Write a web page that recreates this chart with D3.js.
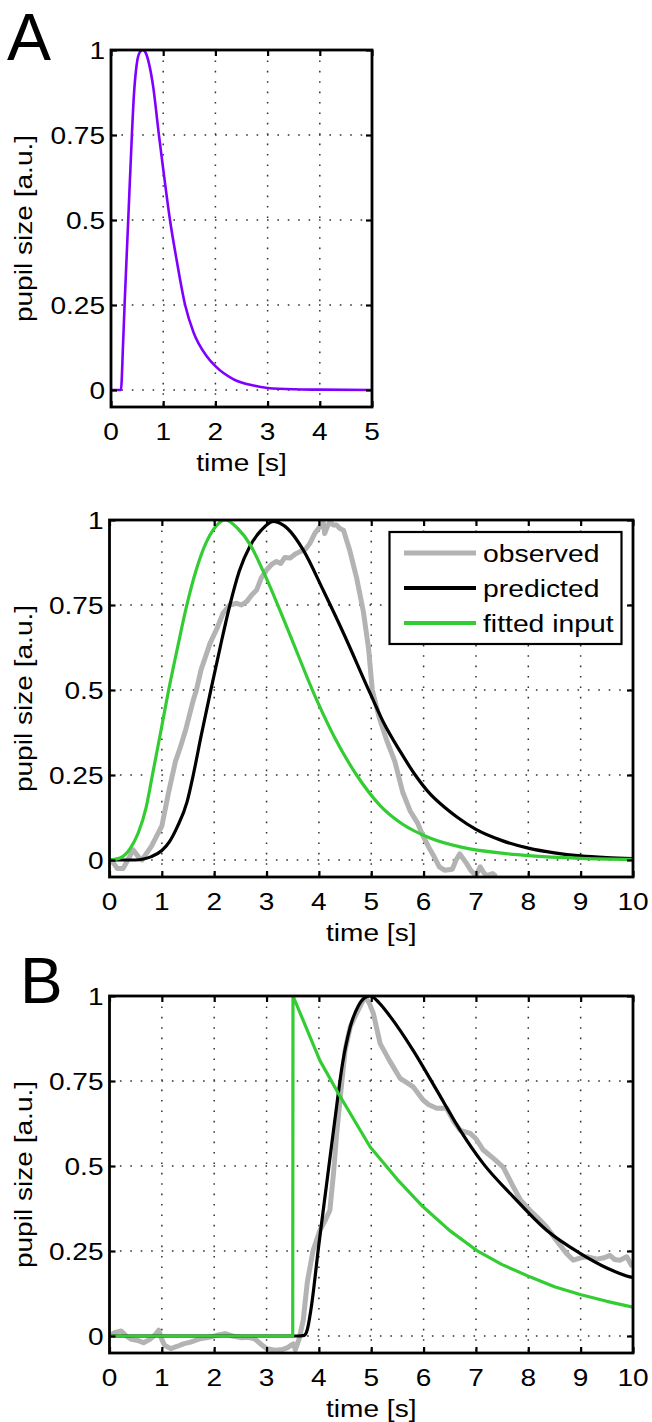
<!DOCTYPE html>
<html><head><meta charset="utf-8">
<script src="https://cdn.jsdelivr.net/npm/d3@7"></script>
<style>html,body{margin:0;padding:0;background:#fff;} svg{display:block;} text{font-family:"Liberation Sans",Arial,Helvetica,sans-serif;fill:#000;}</style>
</head><body>
<svg id="fig" width="652" height="1422"></svg>
<script>
// ---------- data (time [s], pupil size [a.u.]) ----------
const yTickValues = [0, 0.25, 0.5, 0.75, 1];
const yTickLabels = ["0", "0.25", "0.5", "0.75", "1"];
const xTicksA = [0, 1, 2, 3, 4, 5];
const xTicksBC = [0, 1, 2, 3, 4, 5, 6, 7, 8, 9, 10];
const legendLabels = ["observed", "predicted", "fitted input"];

// Panel A: pupil response function
const responseA = [[0,0],[0.18,0],[0.19,0.0],[0.23,0.13],[0.26,0.25],[0.33,0.5],[0.40,0.75],[0.44,0.87],[0.49,0.955],[0.55,0.993],[0.61,1.0],[0.67,0.99],[0.72,0.965],[0.81,0.89],[0.91,0.76],[1.0,0.65],[1.13,0.5],[1.26,0.38],[1.42,0.25],[1.58,0.17],[1.83,0.1],[2.0,0.07],[2.34,0.032],[2.73,0.013],[3.0,0.006],[3.5,0.002],[4.0,0.001],[5.0,0]];

// Panel 2 (middle)
const observedM = [[0,0],[0.08,-0.01],[0.15,-0.025],[0.26,-0.025],[0.35,0.0],[0.45,0.03],[0.55,0.01],[0.62,0.0],[0.71,0.02],[0.80,0.04],[0.90,0.07],[1.0,0.10],[1.13,0.2],[1.26,0.29],[1.35,0.33],[1.45,0.38],[1.55,0.44],[1.60,0.47],[1.66,0.5],[1.75,0.56],[1.92,0.637],[2.05,0.68],[2.17,0.726],[2.30,0.75],[2.43,0.755],[2.52,0.75],[2.62,0.76],[2.72,0.78],[2.81,0.794],[2.9,0.83],[3.0,0.853],[3.1,0.87],[3.19,0.878],[3.27,0.872],[3.35,0.89],[3.45,0.888],[3.55,0.9],[3.64,0.907],[3.75,0.915],[3.83,0.932],[3.92,0.96],[4.02,0.981],[4.08,0.995],[4.11,0.96],[4.16,0.98],[4.21,0.995],[4.28,0.985],[4.34,0.985],[4.4,0.975],[4.47,0.97],[4.53,0.94],[4.59,0.91],[4.72,0.83],[4.85,0.73],[4.95,0.62],[5.02,0.5],[5.15,0.42],[5.3,0.35],[5.45,0.29],[5.6,0.2],[5.74,0.145],[5.88,0.11],[6.0,0.067],[6.1,0.037],[6.2,0.01],[6.3,-0.02],[6.4,-0.03],[6.55,-0.027],[6.62,0.0],[6.69,0.018],[6.75,0.005],[6.82,-0.01],[6.9,-0.03],[7.0,-0.046],[7.08,-0.02],[7.14,-0.035],[7.2,-0.046],[7.32,-0.04],[7.36,-0.045]];
const predictedM = [[0,0],[0.5,0],[0.65,0.003],[0.8,0.01],[1.0,0.028],[1.15,0.055],[1.29,0.096],[1.48,0.17],[1.6,0.25],[1.75,0.365],[1.95,0.51],[2.12,0.63],[2.30,0.75],[2.48,0.85],[2.68,0.922],[2.9,0.97],[3.13,0.996],[3.4,0.975],[3.70,0.912],[4.08,0.794],[4.47,0.667],[4.98,0.49],[5.25,0.40],[5.55,0.32],[5.84,0.25],[6.12,0.195],[6.4,0.155],[6.65,0.125],[7.0,0.09],[7.5,0.057],[8.0,0.035],[8.5,0.021],[9.0,0.012],[9.5,0.007],[10.0,0.004]];
const inputM = [[0,0],[0.2,0.006],[0.4,0.035],[0.55,0.08],[0.7,0.155],[0.82,0.25],[0.97,0.37],[1.13,0.5],[1.3,0.625],[1.47,0.745],[1.65,0.85],[1.85,0.935],[2.0,0.975],[2.21,1.0],[2.45,0.975],[2.69,0.927],[2.94,0.848],[3.385,0.686],[3.96,0.47],[4.3,0.36],[4.72,0.25],[5.17,0.16],[5.6,0.105],[6.12,0.065],[6.72,0.038],[7.5,0.02],[8.0,0.013],[9.0,0.005],[10.0,0.002]];

// Panel B
const observedB = [[0,0],[0.1,0.01],[0.22,0.015],[0.32,0.0],[0.42,-0.01],[0.54,-0.013],[0.65,-0.02],[0.77,-0.01],[0.88,0.005],[0.94,0.017],[1.0,-0.01],[1.05,-0.027],[1.17,-0.037],[1.3,-0.03],[1.41,-0.023],[1.55,-0.018],[1.73,-0.008],[1.9,-0.004],[2.05,0.002],[2.21,0.007],[2.35,0.0],[2.53,-0.005],[2.65,-0.004],[2.77,-0.008],[2.9,-0.025],[3.0,-0.037],[3.16,-0.042],[3.3,-0.04],[3.40,-0.034],[3.51,-0.023],[3.55,-0.04],[3.62,-0.01],[3.70,0.046],[3.78,0.16],[3.89,0.252],[4.02,0.311],[4.12,0.34],[4.21,0.37],[4.28,0.48],[4.34,0.596],[4.42,0.72],[4.50,0.84],[4.6,0.91],[4.72,0.949],[4.88,0.998],[4.96,0.98],[5.04,0.949],[5.17,0.86],[5.36,0.807],[5.55,0.758],[5.68,0.745],[5.80,0.733],[5.99,0.694],[6.1,0.68],[6.25,0.67],[6.44,0.67],[6.58,0.63],[6.70,0.605],[6.89,0.596],[7.0,0.58],[7.14,0.547],[7.35,0.52],[7.52,0.497],[7.71,0.44],[7.85,0.4],[8.03,0.37],[8.2,0.345],[8.35,0.321],[8.54,0.28],[8.73,0.243],[8.86,0.223],[9.0,0.23],[9.12,0.233],[9.31,0.226],[9.45,0.23],[9.56,0.237],[9.65,0.225],[9.75,0.223],[9.88,0.233],[9.97,0.208],[10.0,0.21]];
const predictedB = [[0,0],[3.6,0],[3.72,0.002],[3.78,0.02],[3.85,0.08],[4.0,0.27],[4.15,0.45],[4.3,0.63],[4.45,0.8],[4.6,0.91],[4.75,0.97],[4.88,0.995],[4.98,1.0],[5.15,0.98],[5.36,0.94],[5.80,0.84],[6.25,0.723],[6.7,0.605],[7.14,0.507],[7.71,0.41],[8.35,0.311],[8.99,0.243],[9.5,0.2],[9.94,0.174],[10.0,0.172]];
const inputB = [[0,0],[3.5,0],[3.505,1.0],[4.02,0.81],[4.37,0.714],[4.98,0.556],[5.5,0.46],[5.99,0.38],[6.5,0.31],[7.01,0.252],[7.5,0.21],[8.03,0.174],[8.5,0.145],[8.99,0.122],[9.5,0.102],[10.0,0.085]];

// ---------- drawing ----------
const svg = d3.select("#fig");
const TICK_FS = 23, TICK_SX = 1.22, LAB_FS = 24, LAB_SX = 1.17;
const colObs = "#b3b3b3", colPred = "#000000", colIn = "#33cc33", colPurple = "#7f00ff";

function txt(g, x, y, s, anchor, rot, size, sx) {
  g.append("text")
    .attr("transform", `translate(${x},${y})` + (rot ? " rotate(-90)" : "") + ` scale(${sx},1)`)
    .attr("text-anchor", anchor)
    .attr("font-size", size)
    .text(s);
}

function panel(id, box, xMax, xTicks, series) {
  const x = d3.scaleLinear().domain([0, xMax]).range([box.l, box.r]);
  const y = d3.scaleLinear().domain([-0.05, 1]).range([box.b, box.t]);
  const g = svg.append("g");
  const grid = g.append("g").attr("stroke", "#333").attr("stroke-width", 1.5).attr("stroke-dasharray", "1.6 8.8");
  xTicks.slice(1, -1).forEach(v => grid.append("line").attr("x1", x(v)).attr("x2", x(v)).attr("y1", box.t).attr("y2", box.b));
  yTickValues.slice(0, -1).forEach(v => grid.append("line").attr("x1", box.l).attr("x2", box.r).attr("y1", y(v)).attr("y2", y(v)));
  svg.append("clipPath").attr("id", "clip" + id).append("rect")
    .attr("x", box.l).attr("y", box.t).attr("width", box.r - box.l).attr("height", box.b - box.t);
  const lines = g.append("g").attr("clip-path", `url(#clip${id})`);
  series.forEach(s => {
    const gen = d3.line().x(d => x(d[0])).y(d => y(d[1])).curve(s.smooth ? d3.curveMonotoneX : d3.curveLinear);
    lines.append("path").attr("d", gen(s.data)).attr("fill", "none")
      .attr("stroke", s.color).attr("stroke-width", s.width).attr("stroke-linejoin", "round").attr("stroke-linecap", "round");
  });
  const axB = d3.axisBottom(x).tickValues(xTicks).tickSize(-6).tickFormat("");
  const axT = d3.axisTop(x).tickValues(xTicks).tickSize(-6).tickFormat("");
  const axL = d3.axisLeft(y).tickValues(yTickValues).tickSize(-6).tickFormat("");
  const axR = d3.axisRight(y).tickValues(yTickValues).tickSize(-6).tickFormat("");
  [[axB, `translate(0,${box.b})`], [axT, `translate(0,${box.t})`], [axL, `translate(${box.l},0)`], [axR, `translate(${box.r},0)`]].forEach(([a, tr]) => {
    const ag = g.append("g").attr("transform", tr).call(a);
    ag.select(".domain").remove();
    ag.selectAll(".tick line").attr("stroke", "#000").attr("stroke-width", 2.2);
  });
  g.append("rect").attr("x", box.l).attr("y", box.t).attr("width", box.r - box.l).attr("height", box.b - box.t)
    .attr("fill", "none").attr("stroke", "#000").attr("stroke-width", 2.8);
  xTicks.forEach(v => txt(g, x(v), box.b + 33, String(v), "middle", false, TICK_FS, TICK_SX));
  yTickValues.forEach((v, i) => txt(g, box.l - 6, y(v) + 8.5, yTickLabels[i], "end", false, TICK_FS, TICK_SX));
  txt(g, (box.l + box.r) / 2, box.b + 64, "time [s]", "middle", false, LAB_FS, LAB_SX);
  txt(g, 32, (box.t + box.b) / 2, "pupil size [a.u.]", "middle", true, LAB_FS, LAB_SX);
  return {x, y, g};
}

// Panel A
panel("A", {l: 111, r: 372, t: 50, b: 407}, 5, xTicksA, [
  {data: responseA, color: colPurple, width: 2.6, smooth: true}
]);
svg.append("text").attr("x", 7).attr("y", 60).attr("font-size", 66).text("A");

// Middle panel
panel("M", {l: 109.5, r: 633, t: 520, b: 877}, 10, xTicksBC, [
  {data: observedM, color: colObs, width: 5, smooth: false},
  {data: predictedM, color: colPred, width: 3.2, smooth: true},
  {data: inputM, color: colIn, width: 3.2, smooth: true}
]);
const lg = svg.append("g");
lg.append("rect").attr("x", 389.5).attr("y", 532).attr("width", 232).attr("height", 112)
  .attr("fill", "#fff").attr("stroke", "#000").attr("stroke-width", 2.2);
[[colObs, 5], [colPred, 4.2], [colIn, 3.8]].forEach(([c, w], i) => {
  const yy = 553 + i * 35;
  lg.append("line").attr("x1", 404).attr("x2", 476).attr("y1", yy).attr("y2", yy).attr("stroke", c).attr("stroke-width", w);
  txt(lg, 483, yy + 9, legendLabels[i], "start", false, LAB_FS, 1.18);
});

// Panel B
panel("B", {l: 109.5, r: 633, t: 996, b: 1353}, 10, xTicksBC, [
  {data: observedB, color: colObs, width: 5, smooth: false},
  {data: predictedB, color: colPred, width: 3.2, smooth: true},
  {data: inputB, color: colIn, width: 3.2, smooth: false}
]);
svg.append("text").attr("x", 20).attr("y", 1003).attr("font-size", 64).text("B");
</script>
</body></html>
